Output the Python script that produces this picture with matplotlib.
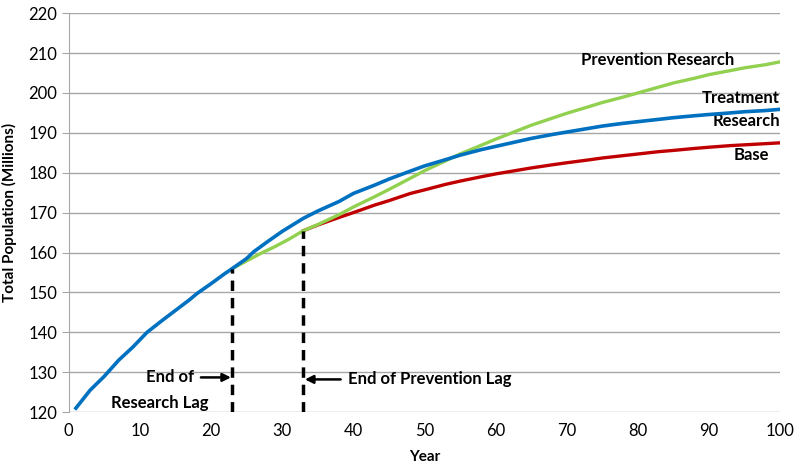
import numpy as np
import matplotlib
matplotlib.use("Agg")
import matplotlib.pyplot as plt

plt.rcParams['font.family'] = ['Lato', 'DejaVu Sans']

# shared curve before the research lag ends
years_pre = [1, 3, 5, 7, 9, 11, 13, 15, 17, 18, 20, 22, 23]
pop_pre = [121.0, 125.5, 129.0, 133.0, 136.3, 140.0, 142.8, 145.5, 148.2, 149.7, 152.2, 154.8, 156.0]

# treatment research (after lag)
years_treat = [23, 25, 26, 28, 30, 32, 33, 35, 38, 40, 43, 45, 48, 50, 53, 55, 58, 60, 63, 65, 68, 70, 73, 75, 78, 80, 83, 85, 88, 90, 93, 95, 98, 100]
pop_treat = [156.0, 158.5, 160.2, 162.8, 165.3, 167.5, 168.6, 170.4, 172.8, 174.8, 176.9, 178.4, 180.4, 181.7, 183.3, 184.4, 185.8, 186.6, 187.8, 188.6, 189.6, 190.2, 191.1, 191.7, 192.4, 192.8, 193.4, 193.8, 194.3, 194.6, 195.0, 195.3, 195.6, 195.9]

# prevention research (after lag)
years_prev = [23, 25, 27, 29, 31, 33, 35, 38, 40, 43, 45, 48, 50, 53, 55, 58, 60, 63, 65, 68, 70, 73, 75, 78, 80, 83, 85, 88, 90, 93, 95, 98, 100]
pop_prev = [156.0, 157.9, 159.8, 161.5, 163.4, 165.5, 167.0, 169.5, 171.4, 174.0, 175.8, 178.6, 180.5, 183.0, 184.7, 186.9, 188.4, 190.5, 191.9, 193.7, 194.9, 196.5, 197.6, 199.0, 200.0, 201.5, 202.5, 203.7, 204.6, 205.6, 206.3, 207.1, 207.8]

# base (after prevention lag)
years_base = [33, 35, 38, 40, 43, 45, 48, 50, 53, 55, 58, 60, 63, 65, 68, 70, 73, 75, 78, 80, 83, 85, 88, 90, 93, 95, 98, 100]
pop_base = [165.5, 166.9, 168.8, 170.0, 171.9, 173.0, 174.8, 175.7, 177.1, 177.9, 179.0, 179.7, 180.6, 181.2, 182.0, 182.5, 183.2, 183.7, 184.3, 184.7, 185.3, 185.6, 186.1, 186.4, 186.8, 187.0, 187.3, 187.5]

research_lag = 23
prevention_lag = 33

fig = plt.figure(figsize=(8, 4.71), dpi=100)
ax = fig.add_axes([0.086, 0.125, 0.889, 0.847])

ax.plot(years_base, pop_base, color='#c00000', linewidth=2.4, zorder=3)
ax.plot(years_prev, pop_prev, color='#92d050', linewidth=2.4, zorder=3)
ax.plot(years_pre + years_treat[1:], pop_pre + pop_treat[1:], color='#0070c0', linewidth=2.6, zorder=4)

# lag markers
ax.plot([research_lag, research_lag], [120, pop_pre[-1]], color='black', linewidth=2.5,
        linestyle=(0, (3, 2)), zorder=5)
ax.plot([prevention_lag, prevention_lag], [120, pop_base[0]], color='black', linewidth=2.5,
        linestyle=(0, (3, 2)), zorder=5)

ax.set_xlim(0, 100)
ax.set_ylim(120, 220)
ax.set_xticks(np.arange(0, 101, 10))
ax.set_yticks(np.arange(120, 221, 10))
ax.yaxis.grid(True, color='#a6a6a6', linewidth=1)
ax.set_axisbelow(True)
for s in ['top', 'right', 'bottom']:
    ax.spines[s].set_visible(False)
ax.spines['left'].set_color('#a6a6a6')
ax.tick_params(axis='y', length=5, color='#a6a6a6', labelsize=12)
ax.tick_params(axis='x', length=0, labelsize=12, pad=8)

ax.set_xlabel('Year', fontsize=11, fontweight='bold', labelpad=8)
ax.set_ylabel('Total Population (Millions)', fontsize=11, fontweight='bold', labelpad=8)

kw = dict(fontsize=12, fontweight='bold')
ax.text(82.8, 208.3, 'Prevention Research', ha='center', va='center', **kw)
ax.text(100, 198.7, 'Treatment', ha='right', va='center', **kw)
ax.text(100, 193.0, 'Research', ha='right', va='center', **kw)
ax.text(96, 184.4, 'Base', ha='center', va='center', **kw)

ax.annotate('End of', xy=(research_lag - 0.2, 128.7), xytext=(17.6, 128.7),
            ha='right', va='center',
            arrowprops=dict(arrowstyle='-|>', color='black', lw=1.8, shrinkA=3, shrinkB=0), **kw)
ax.text(12.8, 122.4, 'Research Lag', ha='center', va='center', **kw)
ax.annotate('End of Prevention Lag', xy=(prevention_lag + 0.2, 128.2), xytext=(39.2, 128.2),
            ha='left', va='center',
            arrowprops=dict(arrowstyle='-|>', color='black', lw=1.8, shrinkA=3, shrinkB=0), **kw)

fig.savefig('out.png', dpi=100)
